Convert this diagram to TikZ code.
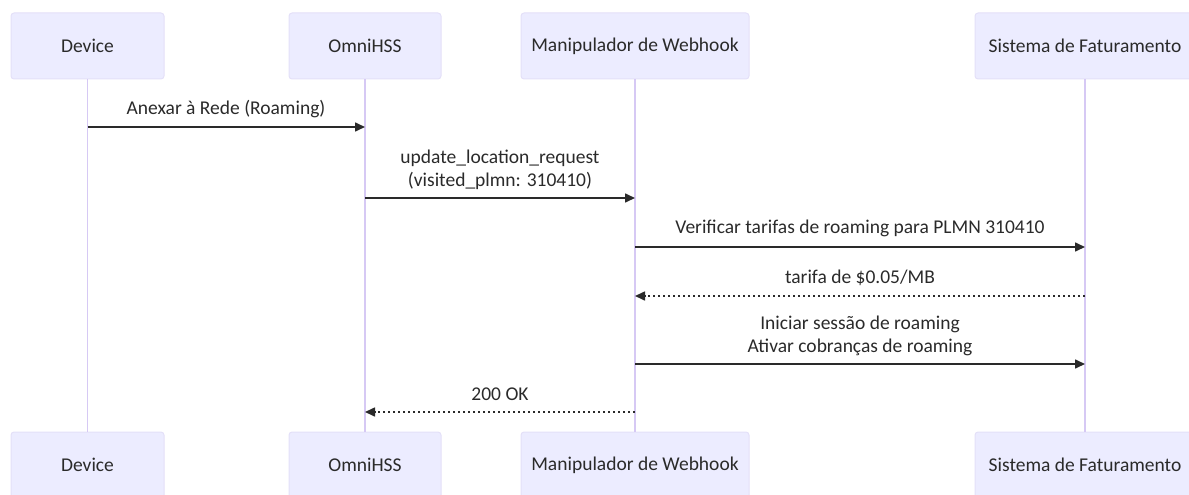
\documentclass[tikz,border=0pt]{standalone}
\usepackage{fontspec}
\setmainfont{Carlito}
\usetikzlibrary{arrows.meta}
\definecolor{boxfill}{HTML}{ECECFF}
\definecolor{boxdraw}{HTML}{E4E0F8}
\definecolor{lifeline}{HTML}{D6C9F4}
\definecolor{txt}{HTML}{2A2A2A}
\tikzset{
  actor/.style={draw=boxdraw, fill=boxfill, rounded corners=3pt, line width=1pt,
    minimum height=66pt, inner sep=0pt, text=txt, font=\fontsize{19.5}{23}\selectfont},
  life/.style={draw=lifeline, line width=1.2pt},
  msgline/.style={draw=txt, line width=1.6pt, -{Triangle[length=10pt,width=9pt]}},
  reply/.style={msgline, dash pattern=on 2.5pt off 2.5pt},
  lbl/.style={text=txt, align=center, inner sep=0pt, font=\fontsize{19.5}{23}\selectfont},
}
\begin{document}
\begin{tikzpicture}[x=1pt,y=-1pt]
\useasboundingbox (0,0) rectangle (1189,495);
% top actors
\node[actor, minimum width=153pt] (dT) at (87.5,46) {Device};
\node[actor, minimum width=152pt] (oT) at (365,46) {OmniHSS};
\node[actor, minimum width=228pt] (wT) at (635,46) {Manipulador de Webhook};
\node[actor, minimum width=220pt] (sT) at (1085,46) {Sistema de Faturamento};
% bottom actors
\node[actor, minimum width=153pt] (dB) at (87.5,465) {Device};
\node[actor, minimum width=152pt] (oB) at (365,465) {OmniHSS};
\node[actor, minimum width=228pt] (wB) at (635,465) {Manipulador de Webhook};
\node[actor, minimum width=220pt] (sB) at (1085,465) {Sistema de Faturamento};
% lifelines
\draw[life] (dT.south) -- (dB.north);
\draw[life] (oT.south) -- (oB.north);
\draw[life] (wT.south) -- (wB.north);
\draw[life] (sT.south) -- (sB.north);
% message anchor points
\coordinate (d1) at (dT.south |- {(0,127)});
\coordinate (o1) at (oT.south |- {(0,127)});
\coordinate (o2) at (oT.south |- {(0,198)});
\coordinate (w2) at (wT.south |- {(0,198)});
\coordinate (w3) at (wT.south |- {(0,247)});
\coordinate (s3) at (sT.south |- {(0,247)});
\coordinate (s4) at (sT.south |- {(0,296)});
\coordinate (w4) at (wT.south |- {(0,296)});
\coordinate (w5) at (wT.south |- {(0,364)});
\coordinate (s5) at (sT.south |- {(0,364)});
\coordinate (w6) at (wT.south |- {(0,412)});
\coordinate (o6) at (oT.south |- {(0,412)});
% messages
\draw[msgline] (d1) -- (o1);
\node[lbl] (l1) at (226,109) {Anexar à Rede (Roaming)};
\draw[msgline] (o2) -- (w2);
\node[lbl] (l2) at (500,170) {update\_location\_request\\(visited\_plmn: 310410)};
\draw[msgline] (w3) -- (s3);
\node[lbl] (l3) at (860,228) {Verificar tarifas de roaming para PLMN 310410};
\draw[reply] (s4) -- (w4);
\node[lbl] (l4) at (860,278) {tarifa de \$0.05/MB};
\draw[msgline] (w5) -- (s5);
\node[lbl] (l5) at (860,336) {Iniciar sessão de roaming\\Ativar cobranças de roaming};
\draw[reply] (w6) -- (o6);
\node[lbl] (l6) at (500,394) {200 OK};
\end{tikzpicture}
\end{document}
